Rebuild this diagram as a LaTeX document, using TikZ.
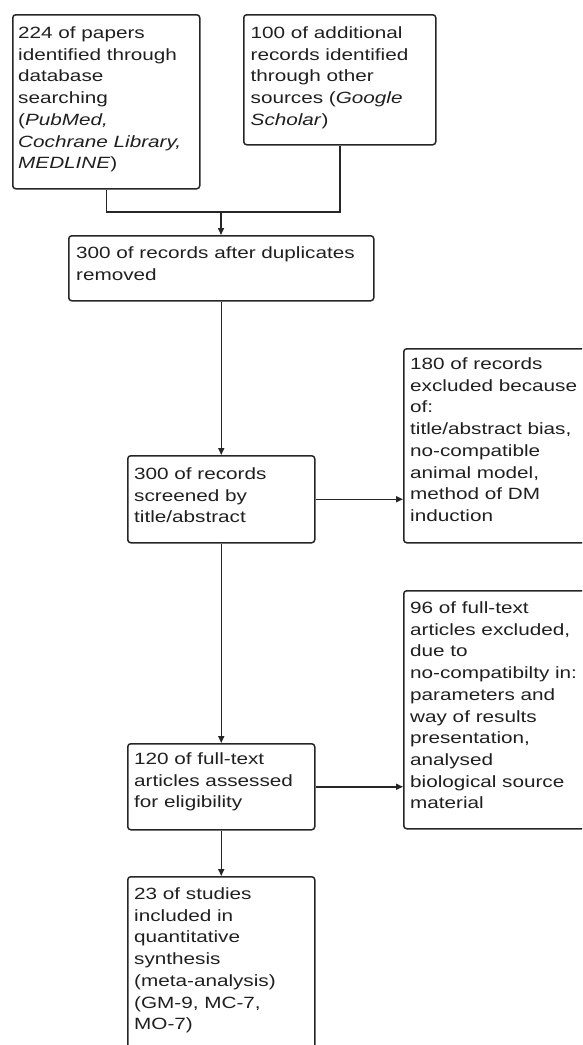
\documentclass[tikz,border=0pt]{standalone}
\usepackage{fontspec}
\setmainfont{Liberation Sans}[FakeStretch=1.27]
\usetikzlibrary{arrows.meta,calc}
\definecolor{ln}{HTML}{262626}
\definecolor{tx}{HTML}{1F1F1F}
\begin{document}
\begin{tikzpicture}[x=1pt,y=-1pt,
  box/.style={draw=ln, line width=1.5pt, rounded corners=3pt, inner sep=0pt, anchor=north west},
  txt/.style={anchor=north west, inner sep=0pt, align=left, text=tx, font=\fontsize{16.3}{21.7}\selectfont},
  arr/.style={draw=ln, line width=1.5pt, -{Triangle[length=7pt,width=6pt]}},
  con/.style={draw=ln, line width=1.5pt}]
\clip (0,0) rectangle (582,1045);
% boxes
\node[box, minimum width=187pt, minimum height=174pt] (b1) at (12,14) {};
\node[box, minimum width=192pt, minimum height=130pt] (b2) at (243,14) {};
\node[box, minimum width=305pt, minimum height=65pt] (b3) at (68,235) {};
\node[box, minimum width=187pt, minimum height=87pt] (b4) at (127,455) {};
\node[box, minimum width=210pt, minimum height=194pt] (b5) at (403,348) {};
\node[box, minimum width=210pt, minimum height=238pt] (b6) at (403,590) {};
\node[box, minimum width=187pt, minimum height=86pt] (b7) at (127,743) {};
\node[box, minimum width=187pt, minimum height=200pt] (b8) at (127,876) {};
% texts
\node[txt] (t1) at (18,26.5) {224 of papers\\identified through\\database\\searching\\(\textit{PubMed,}\\\textit{Cochrane Library,}\\\textit{MEDLINE})};
\node[txt] (t2) at (250.5,26.5) {100 of additional\\records identified\\through other\\sources (\textit{Google}\\\textit{Scholar})};
\node[txt] (t3) at (76,246.5) {300 of records after duplicates\\removed};
\node[txt] (t4) at (134,467.5) {300 of records\\screened by\\title/abstract};
\node[txt] (t5) at (410,357.5) {180 of records\\excluded because\\of:\\title/abstract bias,\\no-compatible\\animal model,\\method of DM\\induction};
\node[txt] (t6) at (410,601.5) {96 of full-text\\articles excluded,\\due to\\no-compatibilty in:\\parameters and\\way of results\\presentation,\\analysed\\biological source\\material};
\node[txt] (t7) at (134,752.5) {120 of full-text\\articles assessed\\for eligibility};
\node[txt] (t8) at (134,887.5) {23 of studies\\included in\\quantitative\\synthesis\\(meta-analysis)\\(GM-9, MC-7,\\MO-7)};
% connectors
\coordinate (j) at (221,212);
\draw[con] (b1.south) -- (b1.south |- j) -- (b2.south |- j) -- (b2.south);
\draw[arr] (j) -- (j |- b3.north);
\draw[arr] (b3.south) -- (b4.north);
\draw[arr] (b4.east) -- (b4.east -| b5.west);
\draw[arr] (b4.south) -- (b7.north);
\draw[arr] (b7.east) -- (b7.east -| b6.west);
\draw[arr] (b7.south) -- (b8.north);
\end{tikzpicture}
\end{document}
